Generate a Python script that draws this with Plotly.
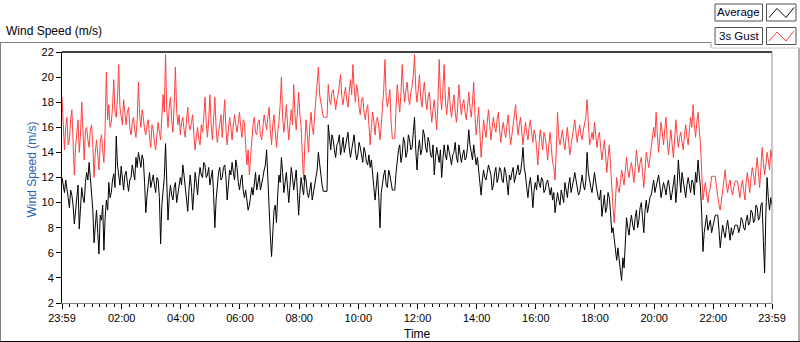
import plotly.graph_objects as go
import pandas as pd

# ---- data (2.5-minute samples, 23:59 -> 23:59) ----
avg_speed = [
    12.0, 11.2, 10.8, 11.8, 11.2, 10.4, 9.6, 11.0, 10.6, 9.8, 8.3, 9.4, 10.4, 11.4, 7.9, 9.2, 11.2, 10.4, 10.0, 11.6, 12.4, 11.8, 13.2, 12.0,
    11.0, 9.4, 6.8, 8.2, 9.4, 7.6, 5.9, 9.0, 8.6, 9.8, 6.2, 8.8, 10.2, 9.4, 11.6, 10.4, 10.8, 11.8, 12.3, 11.2, 15.3, 13.0, 12.2, 11.4,
    12.9, 12.0, 11.0, 12.2, 12.5, 11.6, 10.9, 11.8, 12.0, 13.0, 12.4, 11.8, 13.6, 12.8, 14.0, 13.2, 12.8, 13.8, 13.4, 11.6, 9.2, 10.6, 11.6, 12.4,
    11.2, 11.8, 12.2, 11.4, 10.8, 12.0, 11.8, 10.4, 6.7, 9.8, 11.0, 12.0, 14.7, 11.2, 8.6, 10.4, 11.4, 10.6, 10.2, 11.2, 11.6, 10.0, 10.6, 11.4,
    12.0, 11.4, 13.0, 12.2, 11.2, 10.6, 9.3, 11.0, 12.2, 11.2, 9.4, 10.8, 12.4, 11.6, 10.6, 12.0, 12.8, 12.2, 12.0, 13.2, 13.0, 12.0, 12.2, 12.8,
    11.4, 12.0, 12.6, 10.6, 8.0, 10.2, 11.6, 12.4, 12.8, 11.8, 12.0, 12.8, 13.0, 12.0, 10.2, 11.4, 12.6, 12.2, 13.2, 12.4, 11.8, 13.4, 12.8, 11.6,
    11.0, 11.8, 12.2, 11.0, 10.4, 11.0, 10.0, 9.4, 9.8, 10.6, 11.2, 10.6, 11.8, 12.4, 11.0, 11.6, 12.2, 11.0, 11.4, 12.0, 12.6, 13.0, 14.2, 11.6,
    9.0, 7.4, 5.7, 7.8, 9.4, 9.8, 8.4, 10.6, 12.2, 11.6, 13.6, 12.4, 10.8, 11.6, 12.4, 11.2, 10.0, 11.4, 12.8, 12.0, 11.0, 11.8, 12.6, 10.8,
    9.0, 10.8, 12.0, 11.2, 10.6, 12.2, 11.8, 10.8, 10.4, 11.0, 11.6, 10.2, 10.8, 11.4, 12.0, 12.6, 14.0, 13.0, 12.4, 11.4, 10.9, 10.9, 10.9, 10.9,
    16.2, 15.0, 14.2, 15.4, 15.0, 14.2, 13.6, 14.6, 14.8, 15.4, 13.8, 14.4, 15.2, 14.0, 14.6, 15.2, 15.6, 14.4, 13.6, 14.2, 14.8, 15.4, 14.2, 13.4,
    13.8, 14.8, 14.4, 13.6, 13.2, 14.4, 14.0, 13.2, 13.0, 13.8, 12.8, 13.4, 12.0, 11.2, 10.2, 11.6, 12.4, 10.4, 8.0, 10.8, 11.6, 12.2, 12.6, 11.4,
    11.2, 12.6, 12.2, 11.4, 11.0, 11.0, 11.0, 12.4, 13.4, 14.2, 14.6, 13.2, 13.8, 15.2, 14.8, 13.6, 14.0, 15.4, 15.0, 14.2, 14.4, 15.4, 16.8, 14.2,
    12.6, 14.2, 15.0, 13.8, 14.2, 15.8, 15.4, 14.4, 14.0, 15.2, 14.8, 13.8, 13.6, 14.6, 12.2, 13.6, 14.4, 13.8, 13.2, 14.2, 12.0, 13.4, 14.6, 13.8,
    13.4, 14.6, 14.2, 13.6, 13.0, 13.8, 14.0, 14.8, 13.6, 13.2, 14.6, 14.0, 13.2, 13.8, 14.2, 13.4, 13.6, 14.4, 15.8, 14.6, 14.0, 13.4, 14.6, 13.6,
    13.0, 13.6, 12.4, 11.6, 10.6, 11.8, 12.6, 12.0, 11.8, 12.4, 13.0, 12.6, 12.2, 11.0, 11.4, 12.4, 12.8, 11.6, 12.0, 12.8, 12.6, 11.8, 11.6, 12.8,
    12.4, 11.6, 10.6, 12.2, 11.8, 12.4, 12.8, 11.6, 12.0, 12.6, 13.0, 12.2, 12.4, 13.2, 14.4, 12.8, 12.2, 11.2, 10.4, 11.4, 12.0, 11.0, 9.6, 11.0,
    11.6, 11.0, 12.2, 11.6, 11.2, 12.0, 11.8, 10.8, 11.0, 11.6, 11.8, 11.2, 10.6, 11.2, 10.2, 10.8, 9.2, 10.0, 10.8, 10.2, 9.8, 11.0, 10.6, 10.0,
    11.6, 11.0, 10.4, 11.4, 12.0, 10.8, 11.2, 11.8, 12.4, 11.8, 11.4, 10.6, 10.8, 11.6, 12.2, 11.4, 11.0, 11.8, 14.0, 12.4, 11.6, 11.2, 10.8, 11.8,
    12.4, 11.6, 11.0, 10.4, 10.2, 11.0, 8.9, 10.0, 10.6, 9.2, 9.6, 10.8, 10.4, 9.2, 7.6, 8.0, 7.2, 6.2, 5.4, 6.4, 5.2, 4.6, 3.8, 5.6,
    4.8, 6.6, 8.8, 8.0, 7.4, 8.4, 9.0, 8.2, 7.8, 8.8, 9.4, 8.0, 8.6, 9.6, 10.0, 8.8, 7.6, 9.4, 10.2, 9.2, 9.8, 10.4, 10.6, 11.2,
    11.8, 10.8, 11.2, 11.8, 12.2, 11.4, 10.4, 11.0, 11.6, 11.2, 10.6, 11.4, 11.8, 11.0, 10.2, 10.8, 11.4, 12.2, 10.0, 11.2, 13.4, 11.6, 10.8, 12.4,
    11.8, 11.2, 10.4, 11.4, 12.0, 11.4, 10.8, 11.8, 11.6, 10.6, 12.4, 11.6, 13.4, 12.2, 11.2, 9.0, 6.1, 7.6, 8.4, 9.0, 7.8, 8.2, 8.6, 7.6,
    8.0, 8.6, 9.0, 9.0, 9.0, 7.8, 6.4, 7.4, 8.2, 7.6, 7.2, 8.0, 8.6, 7.8, 7.0, 8.0, 7.4, 7.8, 8.2, 8.2, 8.2, 7.6, 8.0, 8.8,
    8.6, 8.0, 7.8, 8.6, 9.0, 8.2, 8.4, 9.4, 9.2, 8.4, 8.6, 9.8, 9.6, 8.6, 8.8, 9.8, 10.0, 7.0, 4.4, 9.0, 12.0, 10.4, 9.4, 10.4, 9.8,
]

gust_speed = [
    18.4, 15.6, 14.2, 16.0, 16.8, 14.6, 15.0, 16.6, 17.4, 14.8, 12.2, 14.4, 15.6, 16.6, 14.0, 15.4, 18.0, 15.2, 13.4, 15.8, 16.0, 15.0, 14.4, 15.8,
    16.2, 14.6, 12.0, 14.0, 15.0, 13.8, 12.6, 14.8, 15.4, 14.2, 13.2, 16.0, 20.4, 16.6, 17.8, 16.0, 16.4, 17.6, 19.8, 17.2, 16.8, 18.4, 21.0, 17.6,
    17.0, 16.2, 18.2, 17.0, 16.2, 17.2, 17.6, 16.0, 15.4, 16.4, 16.8, 15.8, 15.2, 16.6, 19.6, 17.0, 16.0, 17.4, 16.8, 15.8, 15.4, 16.2, 16.6, 15.2,
    14.4, 16.2, 15.8, 14.8, 14.2, 15.4, 16.4, 15.6, 15.0, 16.8, 18.6, 17.2, 21.8, 17.4, 16.0, 17.6, 18.4, 16.6, 15.6, 17.8, 20.8, 17.4, 16.2, 17.0,
    15.4, 16.4, 16.8, 15.8, 15.2, 16.6, 17.6, 16.2, 15.8, 16.4, 17.0, 15.4, 14.2, 15.2, 16.0, 15.0, 14.6, 16.2, 15.6, 16.8, 18.4, 16.4, 15.2, 16.6,
    18.6, 16.2, 15.0, 16.6, 18.4, 16.0, 14.8, 15.6, 16.4, 17.0, 15.2, 16.4, 18.2, 15.8, 14.6, 15.8, 16.8, 16.0, 15.0, 16.2, 17.0, 16.2, 15.6, 16.4,
    17.2, 16.0, 15.2, 16.6, 16.4, 14.6, 13.0, 14.2, 12.2, 13.6, 15.0, 16.2, 16.8, 15.6, 15.4, 16.4, 16.6, 15.4, 15.0, 16.2, 17.0, 16.4, 15.8, 16.8,
    17.6, 15.8, 14.6, 16.2, 17.0, 15.6, 14.4, 15.6, 16.4, 17.8, 20.0, 16.8, 15.6, 16.6, 17.8, 16.2, 15.0, 16.4, 17.4, 16.2, 19.4, 17.0, 15.8, 17.2,
    18.8, 17.0, 16.0, 13.6, 11.8, 14.6, 16.6, 15.4, 14.0, 16.0, 17.2, 16.0, 15.4, 17.0, 18.4, 19.2, 20.8, 18.6, 18.0, 17.2, 16.8, 16.8, 16.8, 16.8,
    19.4, 18.2, 17.8, 18.8, 19.0, 18.0, 17.4, 18.2, 18.6, 19.4, 20.2, 18.4, 17.8, 18.6, 19.2, 18.2, 17.6, 18.8, 19.8, 18.6, 21.0, 19.2, 18.0, 19.4,
    18.8, 17.6, 17.0, 18.2, 18.4, 17.2, 16.6, 17.4, 17.8, 16.2, 14.6, 16.0, 17.2, 16.4, 15.4, 16.6, 16.8, 16.0, 15.0, 16.2, 17.4, 19.0, 21.4, 18.4,
    17.6, 18.6, 19.0, 16.4, 15.1, 15.1, 15.1, 17.6, 19.4, 18.2, 17.2, 18.8, 21.0, 19.0, 18.0, 19.0, 19.6, 18.4, 17.8, 18.8, 19.2, 20.2, 21.8, 19.0,
    18.0, 19.0, 20.2, 18.4, 17.6, 18.8, 19.6, 18.2, 17.4, 18.4, 18.8, 17.6, 16.4, 17.4, 18.2, 17.0, 15.8, 18.0, 21.4, 18.6, 17.4, 19.0, 21.0, 18.2,
    17.0, 18.0, 19.2, 17.6, 16.8, 17.8, 18.6, 17.2, 16.4, 17.6, 19.4, 18.0, 17.0, 17.8, 18.2, 17.2, 16.6, 17.6, 18.8, 17.6, 16.8, 18.0, 19.6, 17.0,
    15.4, 16.4, 17.6, 15.6, 13.6, 15.0, 16.6, 15.8, 15.2, 16.4, 17.4, 16.2, 15.0, 16.0, 16.8, 16.0, 15.6, 16.6, 17.2, 15.8, 14.8, 15.8, 16.4, 15.6,
    15.2, 16.2, 17.0, 15.6, 14.6, 15.4, 16.2, 16.8, 17.8, 16.4, 15.4, 16.2, 16.8, 15.6, 14.6, 15.6, 16.4, 15.6, 15.0, 16.0, 16.6, 15.6, 14.8, 15.8,
    15.4, 14.4, 13.0, 14.6, 15.8, 15.0, 14.2, 15.6, 15.2, 14.4, 13.4, 14.6, 15.6, 14.4, 13.2, 12.8, 11.8, 14.2, 17.2, 15.2, 14.6, 15.2, 15.8, 14.8,
    14.2, 15.2, 16.0, 14.8, 13.8, 14.6, 15.4, 16.2, 16.6, 15.6, 14.8, 15.6, 16.2, 15.4, 15.0, 15.8, 16.4, 16.8, 18.2, 15.8, 14.6, 15.0, 15.6, 15.0,
    16.4, 15.4, 14.4, 15.2, 15.6, 14.4, 13.4, 14.2, 15.0, 13.8, 12.4, 13.6, 14.6, 13.0, 11.0, 9.6, 8.4, 10.4, 12.0, 11.2, 10.8, 11.6, 12.6, 12.0,
    11.4, 12.6, 13.6, 12.6, 12.0, 12.8, 13.2, 12.4, 11.6, 12.8, 14.2, 13.2, 12.4, 13.2, 13.6, 12.4, 11.2, 12.6, 14.0, 13.4, 12.8, 13.6, 14.4, 15.0,
    16.0, 15.2, 17.2, 15.4, 14.0, 15.2, 16.4, 15.6, 14.6, 15.8, 16.8, 15.0, 13.8, 14.8, 15.8, 14.6, 13.6, 15.0, 16.6, 15.4, 14.4, 15.2, 15.6, 14.8,
    14.2, 15.4, 16.2, 15.2, 14.6, 15.8, 16.8, 16.0, 17.8, 16.2, 15.2, 16.4, 17.2, 15.8, 14.6, 12.4, 10.2, 11.0, 11.6, 10.6, 10.0, 10.8, 11.2, 12.1,
    12.1, 12.1, 12.1, 11.2, 10.4, 9.8, 9.4, 10.2, 11.0, 11.8, 12.6, 11.4, 10.8, 11.4, 11.8, 11.0, 10.6, 11.2, 11.7, 11.7, 11.7, 11.0, 10.4, 11.2,
    11.8, 11.0, 10.2, 11.6, 12.4, 11.6, 10.8, 12.0, 12.8, 12.2, 11.4, 12.6, 13.6, 12.4, 11.2, 12.8, 14.4, 13.2, 12.2, 13.0, 14.0, 13.4, 12.6, 14.2, 13.6,
]

tick_labels = ["23:59", "02:00", "04:00", "06:00", "08:00", "10:00", "12:00",
               "14:00", "16:00", "18:00", "20:00", "22:00", "23:59"]
y_ticks = [2, 4, 6, 8, 10, 12, 14, 16, 18, 20, 22]

assert len(avg_speed) == 577, len(avg_speed)
assert len(gust_speed) == 577, len(gust_speed)

start = pd.Timestamp("2023-01-01 23:59")
end = start + pd.Timedelta(hours=24)
t_avg = pd.date_range(start, periods=len(avg_speed), freq="150s")
t_gust = pd.date_range(start, periods=len(gust_speed), freq="150s")
tick_vals = [start] + [pd.Timestamp("2023-01-02 %02d:00" % h) for h in range(2, 23, 2)] + [end]

# ---- geometry helpers (pixel -> paper) ----
W, H = 800, 342
L, R, T, B = 62, 28, 52, 39
PW, PH = W - L - R, H - T - B


def px(x):
    return (x - L) / PW


def py(y):
    return (H - B - y) / PH


FONT = "Liberation Sans"

fig = go.Figure()
fig.add_trace(go.Scatter(x=t_gust, y=gust_speed, mode="lines", name="3s Gust",
                         line=dict(color="#ff4040", width=1)))
fig.add_trace(go.Scatter(x=t_avg, y=avg_speed, mode="lines", name="Average",
                         line=dict(color="#000000", width=1)))

shapes = []


def hline(x0, x1, y, color, w=1):
    shapes.append(dict(type="line", xref="paper", yref="paper", x0=px(x0), x1=px(x1),
                       y0=py(y), y1=py(y), line=dict(color=color, width=w)))


def vline(x, y0, y1, color, w=1):
    shapes.append(dict(type="line", xref="paper", yref="paper", x0=px(x), x1=px(x),
                       y0=py(y0), y1=py(y1), line=dict(color=color, width=w)))


# plot frame: top black, right gray
shapes.append(dict(type="line", xref="paper", yref="paper", x0=0, x1=1, y0=1, y1=1,
                   line=dict(color="black", width=1.5)))
shapes.append(dict(type="line", xref="paper", yref="paper", x0=1, x1=1, y0=0, y1=1,
                   line=dict(color="#909090", width=1)))

# outer panel frame
hline(0, 711, 42.5, "#808080")
vline(0.5, 42.5, 341.5, "#808080")
hline(0, 800, 341.5, "#000000")
vline(799, 48, 341.5, "#606060")
# legend panel edges
vline(711, 42.5, 48, "#a0a0a0")
hline(711, 800, 48, "#c8c8c8")

# legend boxes
for (ytop, ybot) in [(4, 21), (27.5, 44.5)]:
    shapes.append(dict(type="rect", xref="paper", yref="paper",
                       x0=px(715), x1=px(762.5), y0=py(ybot), y1=py(ytop),
                       line=dict(color="#505050", width=1), fillcolor="white"))
    shapes.append(dict(type="rect", xref="paper", yref="paper",
                       x0=px(766.5), x1=px(796), y0=py(ybot), y1=py(ytop),
                       line=dict(color="#505050", width=1), fillcolor="white"))


def zig(dy, color):
    pts = [(769, 17.5 + dy), (777, 8.5 + dy), (786, 17.5 + dy), (794, 7.5 + dy)]
    path = "M " + " L ".join("%.5f,%.5f" % (px(a), py(b)) for a, b in pts)
    shapes.append(dict(type="path", xref="paper", yref="paper", path=path,
                       line=dict(color=color, width=1)))


zig(0, "#000000")
zig(23.5, "#ff4040")

annotations = [
    dict(text="Wind Speed (m/s)", xref="paper", yref="paper", x=px(4), y=py(31),
         xanchor="left", yanchor="middle", showarrow=False,
         font=dict(family=FONT, size=12, color="#000000")),
    dict(text="Wind Speed (m/s)", xref="paper", yref="paper", x=px(31), y=py(169.5),
         xanchor="center", yanchor="middle", textangle=-90, showarrow=False,
         font=dict(family=FONT, size=12, color="#2e62b0")),
    dict(text="Time", xref="paper", yref="paper", x=px(417), y=py(333.5),
         xanchor="center", yanchor="middle", showarrow=False,
         font=dict(family=FONT, size=12, color="#000000")),
    dict(text="Average", xref="paper", yref="paper", x=px(738.8), y=py(12.5),
         xanchor="center", yanchor="middle", showarrow=False,
         font=dict(family=FONT, size=11.5, color="#000020")),
    dict(text="3s Gust", xref="paper", yref="paper", x=px(738.8), y=py(36),
         xanchor="center", yanchor="middle", showarrow=False,
         font=dict(family=FONT, size=11.5, color="#000020")),
]

fig.update_layout(
    width=W, height=H,
    margin=dict(l=L, r=R, t=T, b=B, pad=0),
    paper_bgcolor="white", plot_bgcolor="white",
    showlegend=False,
    shapes=shapes,
    annotations=annotations,
    xaxis=dict(
        type="date", range=[start, end],
        tickmode="array", tickvals=tick_vals, ticktext=tick_labels,
        ticks="outside", ticklen=5, tickcolor="black", tickwidth=1,
        minor=dict(ticks="outside", ticklen=3, tickcolor="black", tickwidth=1,
                   tickmode="linear", tick0="2023-01-02 00:00", dtick=15 * 60 * 1000),
        showline=True, linecolor="#808080", linewidth=1,
        showgrid=False, zeroline=False,
        tickfont=dict(family=FONT, size=11, color="black"),
    ),
    yaxis=dict(
        range=[2, 22], tickmode="array", tickvals=y_ticks,
        ticks="outside", ticklen=5, tickcolor="black", tickwidth=1,
        showline=True, linecolor="black", linewidth=1,
        showgrid=False, zeroline=False,
        tickfont=dict(family=FONT, size=11, color="black"),
    ),
)

fig.write_html("out.html", config={"displayModeBar": False},
               post_script="document.body.style.margin='0';document.body.style.overflow='hidden';")
